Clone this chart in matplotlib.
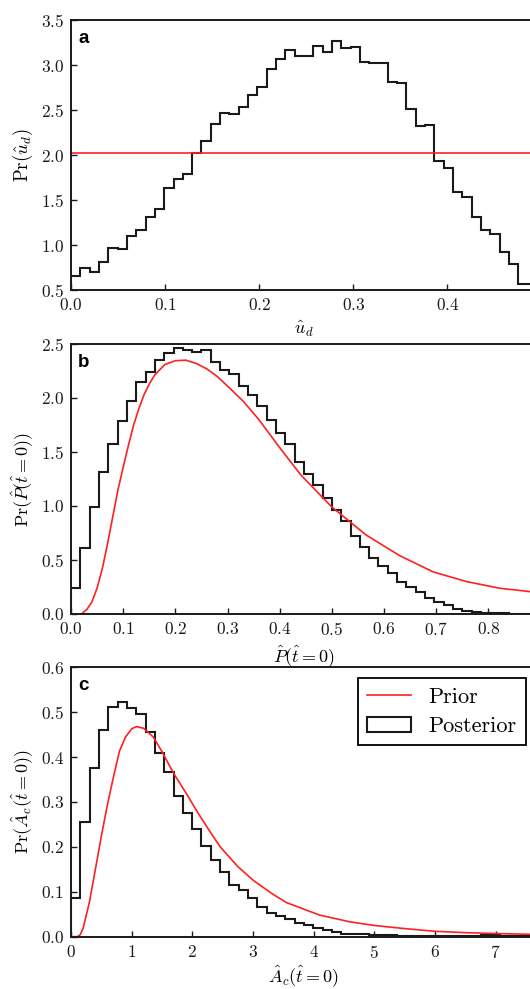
import numpy as np
import matplotlib.pyplot as plt

plt.rcParams['font.family'] = 'serif'
plt.rcParams['font.serif'] = ['cmr10']
plt.rcParams['mathtext.fontset'] = 'cm'
plt.rcParams['axes.formatter.use_mathtext'] = True

# Data
# (a) u_d : posterior histogram (50 bins on [0, ud_max]) and flat prior
ud_max = 0.495
ud_prior = 2.02
ud_post = [0.66, 0.74, 0.70, 0.81, 0.97, 0.96, 1.10, 1.17, 1.31, 1.40,
           1.64, 1.74, 1.79, 2.03, 2.16, 2.35, 2.47, 2.46, 2.54, 2.67,
           2.76, 2.96, 3.07, 3.17, 3.11, 3.11, 3.22, 3.15, 3.27, 3.19,
           3.20, 3.04, 3.03, 3.03, 2.82, 2.80, 2.52, 2.33, 2.34, 1.94,
           1.86, 1.59, 1.54, 1.31, 1.17, 1.12, 0.92, 0.79, 0.57, 0.57]

# (b) P(t=0)
p_max = 0.893
p_post = [0.24, 0.61, 0.99, 1.31, 1.57, 1.79, 1.97, 2.15, 2.24, 2.35,
          2.42, 2.46, 2.44, 2.43, 2.44, 2.33, 2.26, 2.22, 2.11, 2.03,
          1.93, 1.80, 1.68, 1.57, 1.41, 1.30, 1.19, 1.07, 0.96, 0.86,
          0.72, 0.62, 0.52, 0.44, 0.38, 0.30, 0.25, 0.20, 0.15, 0.11,
          0.08, 0.05, 0.03, 0.02, 0.012, 0.006, 0.006, 0.003, 0.003, 0.001]
p_prior_x = [0.0, 0.02, 0.03, 0.04, 0.05, 0.06, 0.07, 0.08, 0.09, 0.10,
             0.11, 0.12, 0.13, 0.14, 0.15, 0.16, 0.18, 0.20, 0.22, 0.24,
             0.26, 0.28, 0.30, 0.33, 0.36, 0.40, 0.44, 0.50, 0.566, 0.63,
             0.694, 0.758, 0.822, 0.893]
p_prior_y = [0.0, 0.0, 0.04, 0.11, 0.24, 0.42, 0.65, 0.90, 1.15, 1.36,
             1.56, 1.75, 1.90, 2.03, 2.13, 2.21, 2.31, 2.345, 2.35, 2.32,
             2.27, 2.20, 2.11, 1.97, 1.80, 1.54, 1.29, 0.99, 0.73, 0.54,
             0.39, 0.30, 0.238, 0.20]

# (c) A_c(t=0)
ac_max = 7.68
ac_post = [0.086, 0.255, 0.376, 0.461, 0.512, 0.522, 0.509, 0.496, 0.455, 0.408,
           0.367, 0.313, 0.276, 0.239, 0.203, 0.171, 0.145, 0.116, 0.104, 0.087,
           0.067, 0.052, 0.047, 0.039, 0.031, 0.025, 0.020, 0.015, 0.010, 0.007,
           0.006, 0.005, 0.004, 0.003, 0.003, 0.002, 0.002, 0.002, 0.001, 0.002,
           0.001, 0.001, 0.001, 0.002, 0.003, 0.004, 0.002, 0.001, 0.001, 0.001]
ac_prior_x = [0.0, 0.1, 0.15, 0.2, 0.3, 0.4, 0.5, 0.6, 0.7, 0.8,
              0.9, 1.0, 1.08, 1.2, 1.36, 1.5, 1.69, 1.9, 2.1, 2.3,
              2.46, 2.75, 3.0, 3.3, 3.55, 4.1, 4.6, 5.0, 5.5, 6.0,
              6.5, 7.0, 7.68]
ac_prior_y = [0.0, 0.0, 0.004, 0.019, 0.075, 0.149, 0.224, 0.294, 0.356, 0.414,
              0.445, 0.463, 0.468, 0.464, 0.444, 0.412, 0.364, 0.319, 0.274, 0.232,
              0.200, 0.156, 0.126, 0.097, 0.076, 0.048, 0.033, 0.025, 0.018, 0.012,
              0.009, 0.007, 0.005]

red = '#ff2020'
black = '#1a1a1a'

fig = plt.figure(figsize=(5.3, 9.89), dpi=100)
left, width = 0.134, 0.879
ax_a = fig.add_axes([left, 0.7068, width, 0.2725])
ax_b = fig.add_axes([left, 0.3792, width, 0.2730])
ax_c = fig.add_axes([left, 0.0529, width, 0.2724])


def style(ax, letter):
    for side in ['top', 'bottom', 'left', 'right']:
        ax.spines[side].set_linewidth(1.4)
        ax.spines[side].set_color(black)
    ax.tick_params(direction='in', length=4, width=1, top=False, right=False,
                   labelsize=12.5, pad=5, colors=black)
    ax.text(0.015, 0.915, letter, transform=ax.transAxes, fontsize=13.5,
            fontweight='bold', family='Liberation Sans', va='baseline', color='black')


def posterior(ax, values, xmax):
    edges = np.linspace(0, xmax, len(values) + 1)
    ax.hist(edges[:-1], bins=edges, weights=values, histtype='step',
            color=black, linewidth=1.5, label='Posterior')


# panel a
posterior(ax_a, ud_post, ud_max)
ax_a.axhline(ud_prior, color=red, linewidth=1.2, label='Prior')
ax_a.set_xlim(0, ud_max)
ax_a.set_ylim(0.5, 3.5)
ax_a.set_xticks([0.0, 0.1, 0.2, 0.3, 0.4])
ax_a.set_yticks(np.arange(0.5, 3.51, 0.5))
ax_a.set_xlabel(r'$\hat{u}_d$', fontsize=13)
ax_a.set_ylabel(r'$\mathrm{Pr}(\hat{u}_d)$', fontsize=13.5)
style(ax_a, 'a')

# panel b
posterior(ax_b, p_post, p_max)
ax_b.plot(p_prior_x, p_prior_y, color=red, linewidth=1.2, label='Prior')
ax_b.set_xlim(0, p_max)
ax_b.set_ylim(0, 2.5)
ax_b.set_xticks(np.arange(0, 0.81, 0.1))
ax_b.set_yticks(np.arange(0, 2.51, 0.5))
ax_b.set_xlabel(r'$\hat{P}(\hat{t}=0)$', fontsize=13)
ax_b.set_ylabel(r'$\mathrm{Pr}(\hat{P}(\hat{t}=0))$', fontsize=13)
style(ax_b, 'b')

# panel c
posterior(ax_c, ac_post, ac_max)
ax_c.plot(ac_prior_x, ac_prior_y, color=red, linewidth=1.2, label='Prior')
ax_c.set_xlim(0, ac_max)
ax_c.set_ylim(0, 0.6)
ax_c.set_xticks(range(0, 8))
ax_c.set_yticks(np.arange(0, 0.61, 0.1))
ax_c.set_xlabel(r'$\hat{A}_c(\hat{t}=0)$', fontsize=13, labelpad=2)
ax_c.set_ylabel(r'$\mathrm{Pr}(\hat{A}_c(\hat{t}=0))$', fontsize=13)
style(ax_c, 'c')

handles, labels = ax_c.get_legend_handles_labels()
order = [labels.index('Prior'), labels.index('Posterior')]
leg = ax_c.legend([handles[i] for i in order], [labels[i] for i in order],
                  loc='upper right', fontsize=16, fancybox=False, framealpha=1,
                  edgecolor='black', labelspacing=0.45, borderaxespad=0.5)
leg.get_frame().set_linewidth(1.3)

fig.savefig('out.png', dpi=100)
